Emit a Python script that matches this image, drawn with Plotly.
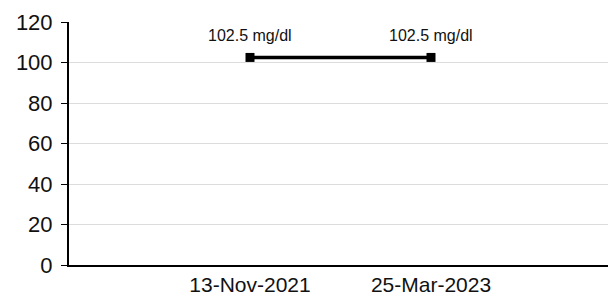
import plotly.graph_objects as go

dates = ["13-Nov-2021", "25-Mar-2023"]
values = [102.5, 102.5]
unit = "mg/dl"
y_ticks = [0, 20, 40, 60, 80, 100, 120]

FONT = "Liberation Sans, Arial, sans-serif"

fig = go.Figure()
fig.add_trace(go.Scatter(
    x=dates, y=values, mode="lines+markers",
    line=dict(color="black", width=3.5),
    marker=dict(symbol="square", size=9, color="black"),
    showlegend=False,
))
for d, v in zip(dates, values):
    fig.add_annotation(x=d, y=v, text=f"{v} {unit}", showarrow=False,
                       yshift=22, font=dict(size=16, color="#111", family=FONT))

fig.update_layout(
    width=616, height=303,
    margin=dict(l=61, r=12, t=14, b=46, autoexpand=False),
    paper_bgcolor="white", plot_bgcolor="white",
    font=dict(family=FONT, color="#111"),
)
fig.update_xaxes(
    type="category", range=[-1, 2], showgrid=False, automargin=False,
    showline=True, linecolor="black", linewidth=2,
    ticks="", tickfont=dict(size=21), ticklabelstandoff=0,
)
fig.update_yaxes(
    range=[0, 120], tickvals=y_ticks, showgrid=True, gridcolor="#dcdcdc", gridwidth=1,
    showline=True, linecolor="black", linewidth=2, zeroline=False, automargin=False,
    ticks="outside", ticklen=6, tickcolor="black", tickwidth=1,
    tickfont=dict(size=22), ticklabelstandoff=4,
)
fig.write_html("out.html")
